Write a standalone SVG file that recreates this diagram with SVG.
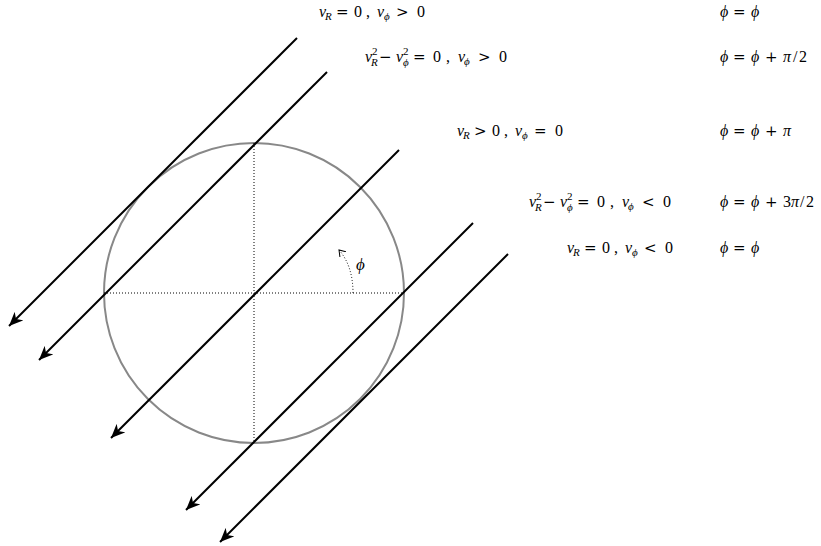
<svg xmlns="http://www.w3.org/2000/svg" width="821" height="546" viewBox="0 0 821 546">
<style>
.t{font-family:"Liberation Serif","DejaVu Serif",serif;font-size:16px;fill:#000}
.i{font-style:italic}
.s{font-size:11px}
.o{font-family:"DejaVu Serif","Liberation Serif",serif;font-size:15px}
.ray{stroke:#000;stroke-width:2;fill:none;marker-end:url(#ah)}
.dot{stroke:#000;stroke-width:1;stroke-dasharray:1,2;fill:none}
</style>
<defs>
<marker id="ah" markerUnits="userSpaceOnUse" markerWidth="16" markerHeight="12" refX="14" refY="6" orient="auto">
<path d="M0,0 L14,6 L0,12 L4,6 Z" fill="#000"/>
</marker>
<marker id="sa" markerUnits="userSpaceOnUse" markerWidth="8" markerHeight="8" refX="6" refY="4" orient="auto">
<path d="M0,0 L6,4 L0,8" fill="none" stroke="#000" stroke-width="1"/>
</marker>
</defs>
<g id="circle">
<circle cx="254" cy="293" r="150" fill="none" stroke="#888" stroke-width="2"/>
<line class="dot" x1="104" y1="293" x2="404" y2="293"/>
<line class="dot" x1="254" y1="143" x2="254" y2="443"/>
</g>
<g id="angle">
<path class="dot" d="M353,293 Q353,266 339,250" marker-end="url(#sa)"/>
<text class="t i" x="356" y="270" style="font-size:17px">ϕ</text>
</g>
<g id="connectors">
<line class="ray" x1="297" y1="38" x2="9" y2="326"/>
<line class="ray" x1="327" y1="72" x2="39" y2="360"/>
<line class="ray" x1="399" y1="150" x2="111" y2="438"/>
<line class="ray" x1="473" y1="223" x2="186" y2="510"/>
<line class="ray" x1="508" y1="254" x2="220" y2="542"/>
</g>
<g id="label1">
<text class="t"><tspan class="i" x="319" y="17">v</tspan><tspan class="s i" x="325" y="20">R</tspan><tspan class="o" x="336" y="17">=</tspan><tspan x="354" y="17">0</tspan><tspan x="366" y="17">,</tspan><tspan class="i" x="377" y="17">v</tspan><tspan class="s i" x="384" y="20">ϕ</tspan><tspan class="o" x="396" y="17">&gt;</tspan><tspan x="417" y="17">0</tspan></text>
<text class="t"><tspan class="i" x="720" y="17">ϕ</tspan><tspan class="o" x="733" y="17">=</tspan><tspan class="i" x="751" y="17">ϕ</tspan></text>
</g>
<g id="label2">
<text class="t"><tspan class="i" x="365" y="62">v</tspan><tspan class="s" x="372" y="55">2</tspan><tspan class="s i" x="371" y="66">R</tspan><tspan class="o" x="379" y="62">−</tspan><tspan class="i" x="396" y="62">v</tspan><tspan class="s" x="403" y="55">2</tspan><tspan class="s i" x="403" y="66">ϕ</tspan><tspan class="o" x="413" y="62">=</tspan><tspan x="433" y="62">0</tspan><tspan x="446" y="62">,</tspan><tspan class="i" x="458" y="62">v</tspan><tspan class="s i" x="464" y="65">ϕ</tspan><tspan class="o" x="478" y="62">&gt;</tspan><tspan x="499" y="62">0</tspan></text>
<text class="t"><tspan class="i" x="720" y="62">ϕ</tspan><tspan class="o" x="733" y="62">=</tspan><tspan class="i" x="751" y="62">ϕ</tspan><tspan class="o" x="765" y="62">+</tspan><tspan class="i" x="783" y="62">π</tspan><tspan x="793" y="62">/</tspan><tspan x="799" y="62">2</tspan></text>
</g>
<g id="label3">
<text class="t"><tspan class="i" x="457" y="136">v</tspan><tspan class="s i" x="463" y="139">R</tspan><tspan class="o" x="474" y="136">&gt;</tspan><tspan x="492" y="136">0</tspan><tspan x="504" y="136">,</tspan><tspan class="i" x="515" y="136">v</tspan><tspan class="s i" x="522" y="139">ϕ</tspan><tspan class="o" x="534" y="136">=</tspan><tspan x="555" y="136">0</tspan></text>
<text class="t"><tspan class="i" x="720" y="136">ϕ</tspan><tspan class="o" x="733" y="136">=</tspan><tspan class="i" x="751" y="136">ϕ</tspan><tspan class="o" x="765" y="136">+</tspan><tspan class="i" x="783" y="136">π</tspan></text>
</g>
<g id="label4">
<text class="t"><tspan class="i" x="529" y="207">v</tspan><tspan class="s" x="536" y="200">2</tspan><tspan class="s i" x="535" y="211">R</tspan><tspan class="o" x="543" y="207">−</tspan><tspan class="i" x="560" y="207">v</tspan><tspan class="s" x="567" y="200">2</tspan><tspan class="s i" x="567" y="211">ϕ</tspan><tspan class="o" x="577" y="207">=</tspan><tspan x="597" y="207">0</tspan><tspan x="610" y="207">,</tspan><tspan class="i" x="622" y="207">v</tspan><tspan class="s i" x="628" y="210">ϕ</tspan><tspan class="o" x="642" y="207">&lt;</tspan><tspan x="663" y="207">0</tspan></text>
<text class="t"><tspan class="i" x="720" y="207">ϕ</tspan><tspan class="o" x="733" y="207">=</tspan><tspan class="i" x="751" y="207">ϕ</tspan><tspan class="o" x="765" y="207">+</tspan><tspan x="783" y="207">3</tspan><tspan class="i" x="791" y="207">π</tspan><tspan x="800" y="207">/</tspan><tspan x="806" y="207">2</tspan></text>
</g>
<g id="label5">
<text class="t"><tspan class="i" x="567" y="253">v</tspan><tspan class="s i" x="573" y="256">R</tspan><tspan class="o" x="584" y="253">=</tspan><tspan x="602" y="253">0</tspan><tspan x="614" y="253">,</tspan><tspan class="i" x="625" y="253">v</tspan><tspan class="s i" x="632" y="256">ϕ</tspan><tspan class="o" x="644" y="253">&lt;</tspan><tspan x="665" y="253">0</tspan></text>
<text class="t"><tspan class="i" x="720" y="253">ϕ</tspan><tspan class="o" x="733" y="253">=</tspan><tspan class="i" x="751" y="253">ϕ</tspan></text>
</g>
</svg>
